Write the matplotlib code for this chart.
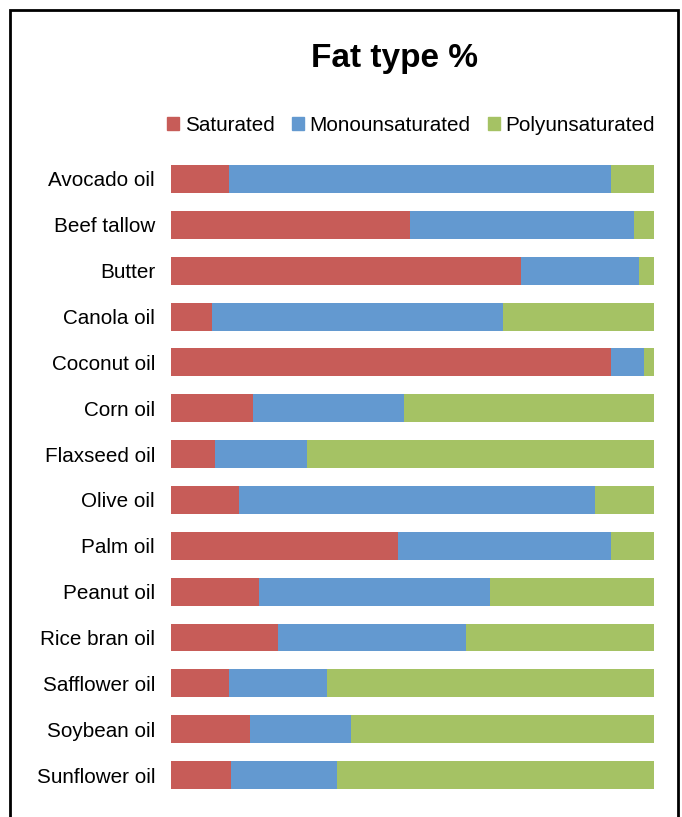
import matplotlib.pyplot as plt
import matplotlib.patches as mpatches
import numpy as np

plt.rcParams['font.family'] = ['Liberation Sans', 'DejaVu Sans']

oils = ["Avocado oil", "Beef tallow", "Butter", "Canola oil", "Coconut oil",
        "Corn oil", "Flaxseed oil", "Olive oil", "Palm oil", "Peanut oil",
        "Rice bran oil", "Safflower oil", "Soybean oil", "Sunflower oil"]
saturated = [12.0, 49.5, 72.5, 8.5, 91.1, 17.0, 9.1, 14.1, 47.0, 18.2, 22.2, 12.0, 16.4, 12.4]
mono = [79.0, 46.4, 24.4, 60.2, 6.8, 31.3, 19.0, 73.7, 44.1, 47.8, 38.9, 20.3, 20.9, 21.9]
poly = [9.0, 4.1, 3.1, 31.3, 2.1, 51.7, 71.9, 12.2, 8.9, 34.0, 38.9, 67.7, 62.7, 65.7]

colors = ["#C75C58", "#6399D0", "#A5C264"]
names = ["Saturated", "Monounsaturated", "Polyunsaturated"]

fig = plt.figure(figsize=(6.82, 8.17), dpi=100)
ax = fig.add_axes([0.2507, 0.0233, 0.7083, 0.7857])

sat = np.array(saturated)
mon = np.array(mono)
pol = np.array(poly)
tot = sat + mon + pol
sat, mon, pol = sat / tot * 100, mon / tot * 100, pol / tot * 100

y = np.arange(len(oils))
ax.barh(y, sat, height=0.61, color=colors[0], label=names[0])
ax.barh(y, mon, left=sat, height=0.61, color=colors[1], label=names[1])
ax.barh(y, pol, left=sat + mon, height=0.61, color=colors[2], label=names[2])

ax.set_xlim(0, 100)
ax.set_ylim(len(oils) - 0.5, -0.5)
ax.set_yticks(y)
ax.set_yticklabels(oils, fontsize=14.9)
ax.set_xticks([])
ax.tick_params(axis='y', length=0, pad=11.5)
for s in ax.spines.values():
    s.set_visible(False)

fig.text(0.579, 0.928, "Fat type %", fontsize=24, fontweight='bold',
         ha='center', va='center')

handles = [mpatches.Patch(color=c) for c in colors]
fig.legend(handles, names, loc='center', bbox_to_anchor=(0.6026, 0.8465), ncol=3,
           frameon=False, fontsize=14.9, handlelength=0.58, handleheight=0.63,
           handletextpad=0.25, columnspacing=0.85, borderpad=0)

frame = mpatches.Rectangle((10 / 682, -0.05), 668 / 682, 1 - 10 / 817 + 0.05,
                           transform=fig.transFigure, fill=False,
                           edgecolor='black', linewidth=2, clip_on=False)
fig.patches.append(frame)

fig.savefig("out.png", dpi=100)
